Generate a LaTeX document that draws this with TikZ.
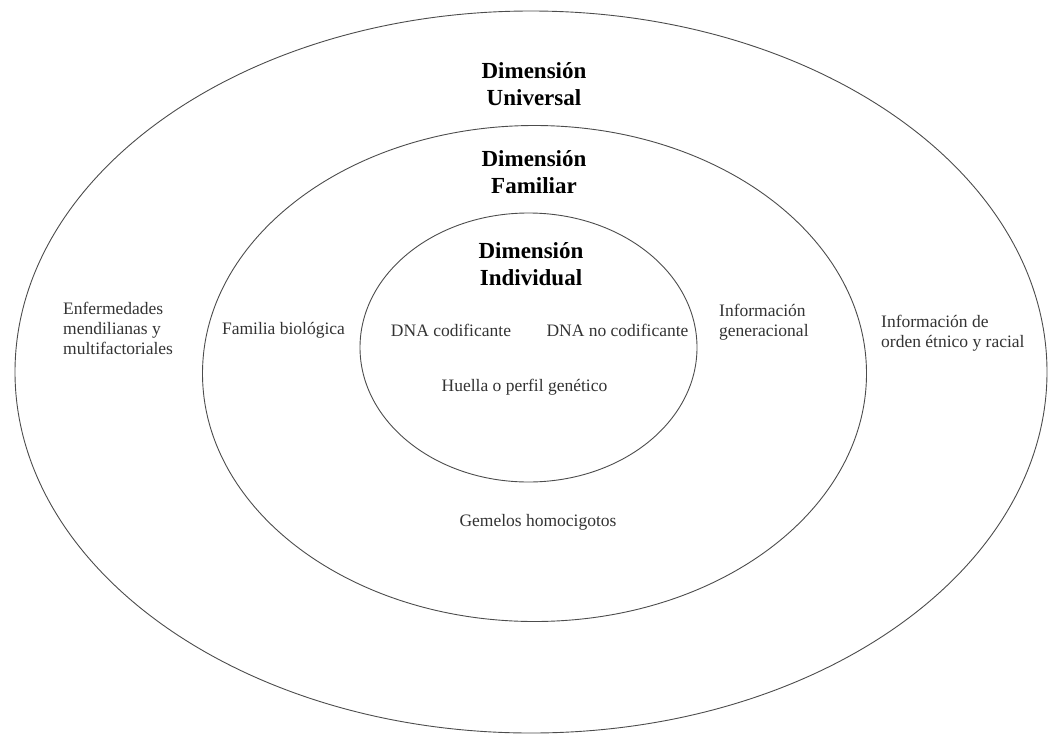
\documentclass[tikz,border=0pt]{standalone}
\usepackage{fontspec}
\setmainfont{Liberation Serif}
\usepackage{xcolor}

\begin{document}
\begin{tikzpicture}[x=1pt,y=-1pt,
	ring/.style={line width=0.9pt, black!70},
	dimtext/.style={align=center, inner sep=0pt, font=\fontsize{23}{27}\selectfont\bfseries},
	itemtext/.style={align=left, inner sep=0pt, text=black!80, font=\fontsize{17.5}{20}\selectfont}]
	\useasboundingbox (0,0) rectangle (1049,734);
	\draw[ring] (531,372) ellipse [x radius=516, y radius=361];
	\draw[ring] (534.5,373.5) ellipse [x radius=332, y radius=248];
	\draw[ring] (528.5,347.5) ellipse [x radius=168.5, y radius=134.5];
	\node[dimtext] (universal) at (534,84) {Dimensión\\Universal};
	\node[dimtext] (familiar) at (534,172) {Dimensión\\Familiar};
	\node[dimtext] (individual) at (531,264) {Dimensión\\Individual};
	\node[itemtext, anchor=west] (enfermedades) at (63,328) {Enfermedades\\mendilianas y\\multifactoriales};
	\node[itemtext] (familia) at (283.5,330) {Familia biológica};
	\node[itemtext] (codificante) at (451,330) {DNA codificante};
	\node[itemtext] (nocodificante) at (617.5,330) {DNA no codificante};
	\node[itemtext, anchor=west] (generacional) at (719,322) {Información\\generacional};
	\node[itemtext, anchor=west] (etnico) at (881,333) {Información de\\orden étnico y racial};
	\node[itemtext] (huella) at (524.5,387) {Huella o perfil genético};
	\node[itemtext] (gemelos) at (538,522) {Gemelos homocigotos};
\end{tikzpicture}
\end{document}
